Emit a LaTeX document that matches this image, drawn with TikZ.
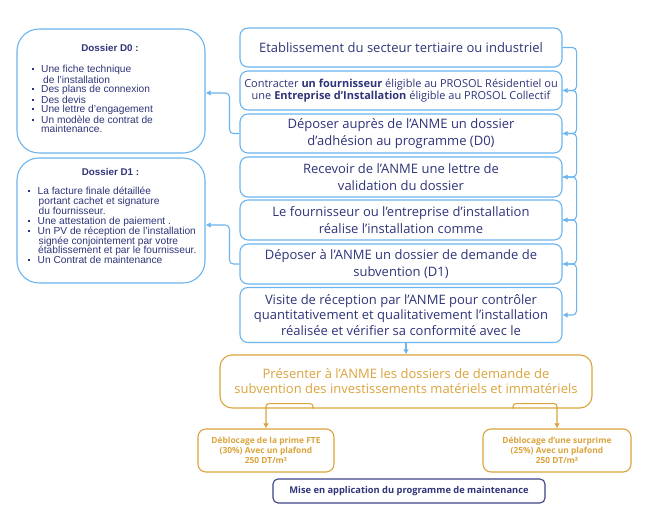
\documentclass[tikz,border=0pt]{standalone}
\usepackage{fontspec}
\setmainfont{Open Sans}
\newfontfamily\arialf{Liberation Sans}
\usetikzlibrary{arrows.meta}
\definecolor{bl}{RGB}{108,180,238}
\definecolor{nv}{RGB}{46,52,120}
\definecolor{og}{RGB}{218,163,60}
\definecolor{nvb}{RGB}{58,66,133}
\newcommand\bulx{\makebox[9.5pt][l]{\raisebox{2.6pt}{\rule{1.8pt}{1.8pt}}}}
\begin{document}
\begin{tikzpicture}[x=1pt,y=-1pt,
  mainbox/.style={draw=bl, line width=1.1pt, rounded corners=8pt, minimum width=322pt,
    text=nv, align=center, inner sep=0pt, font=\fontsize{13}{16.5}\selectfont},
  dbox/.style={draw=bl, line width=1.1pt, rounded corners=22pt, minimum width=188pt, inner sep=0pt},
  dtitle/.style={text=nv, inner sep=0pt, font=\arialf\bfseries\fontsize{9.8}{11}\selectfont},
  dlist/.style={text=nv, inner sep=0pt, align=left, anchor=north west},
  obox/.style={draw=og, line width=1.1pt, rounded corners=12pt, text=og, align=center, inner sep=0pt},
  sbox/.style={draw=og, line width=1.1pt, rounded corners=8pt, text=og, align=center, inner sep=0pt,
    font=\bfseries\fontsize{8.4}{9.7}\selectfont},
  arr/.style={draw=bl, line width=1.1pt, rounded corners=4pt, -{Latex[length=5pt,width=5.5pt]}},
  oarr/.style={draw=og, line width=1.1pt, rounded corners=3pt, -{Latex[length=5pt,width=5.5pt]}}
]
\useasboundingbox (0,0) rectangle (653,526);

% main column
\node[mainbox, minimum height=39pt] (b1) at (401,47.5) {Etablissement du secteur tertiaire ou industriel};
\node[mainbox, minimum height=39pt, font=\fontsize{11}{11.5}\selectfont] (b2) at (401,90.5)
  {Contracter \textbf{un fournisseur} éligible au PROSOL Résidentiel ou\\une \textbf{Entreprise d’Installation} éligible au PROSOL Collectif};
\node[mainbox, minimum height=39pt] (b3) at (401,133.5) {Déposer auprès de l’ANME un dossier\\d’adhésion au programme (D0)};
\node[mainbox, minimum height=40pt] (b4) at (401,177) {Recevoir de l’ANME une lettre de\\validation du dossier};
\node[mainbox, minimum height=40pt] (b5) at (401,220) {Le fournisseur ou l’entreprise d’installation\\réalise l’installation comme};
\node[mainbox, minimum height=40pt] (b6) at (401,264) {Déposer à l’ANME un dossier de demande de\\subvention (D1)};
\node[mainbox, minimum height=55pt, font=\fontsize{13}{15.5}\selectfont] (b7) at (401,315)
  {Visite de réception par l’ANME pour contrôler\\quantitativement et qualitativement l’installation\\réalisée et vérifier sa conformité avec le};

% right chain connectors
\foreach \a/\b in {b1/b2,b2/b3,b3/b4,b4/b5,b5/b6,b6/b7}{
  \draw[arr] (\a.east) -- ++(14pt,0) |- (\b.east);
}

% dossier boxes
\node[dbox, minimum height=124pt] (d0) at (111,91) {};
\node[dtitle] (d0t) at (110,48) {Dossier D0 :};
\node[dlist, font=\arialf\fontsize{10.2}{9.5}\selectfont] (d0l) at (31.5,65)
  {\bulx Une fiche technique\\
   \hspace*{11.5pt}de l’installation\\
   \bulx Des plans de connexion\\
   \bulx Des devis\\
   \bulx Une lettre d’engagement\\
   \bulx Un modèle de contrat de\\
   \hspace*{9.5pt}maintenance.};

\node[dbox, minimum height=125pt] (d1) at (111,220.5) {};
\node[dtitle] (d1t) at (110.5,172) {Dossier D1 :};
\node[dlist, font=\arialf\fontsize{10.2}{9.86}\selectfont] (d1l) at (28,187)
  {\bulx La facture finale détaillée\\
   \hspace*{10.5pt}portant cachet et signature\\
   \hspace*{10.5pt}du fournisseur.\\
   \bulx Une attestation de paiement .\\
   \bulx Un PV de réception de l’installation\\
   \hspace*{10.5pt}signée conjointement par votre\\
   \hspace*{10pt}établissement et par le fournisseur.\\
   \bulx Un Contrat de maintenance};

\draw[arr] (b3.west) -- ++(-10pt,0) |- ([yshift=-2pt]d0.east);
\draw[arr] (b6.west) -- ++(-10pt,0) |- ([yshift=-4.5pt]d1.east);

% orange part
\node[obox, minimum width=372pt, minimum height=53pt, font=\fontsize{13}{15}\selectfont] (o) at (406,381.5)
  {Présenter à l’ANME les dossiers de demande de\\subvention des investissements matériels et immatériels};
\draw[arr] (b7.south -| o.north) -- (o.north);

\node[sbox, minimum width=136pt, minimum height=43pt] (l) at (266,450.5)
  {Déblocage de la prime FTE\\(30\%) Avec un plafond\\250 DT/m²};
\node[sbox, minimum width=148pt, minimum height=43pt] (r) at (557,450.5)
  {Déblocage d’une surprime\\(25\%) Avec un plafond\\250 DT/m²};
\draw[oarr] ([xshift=-93pt]o.south) -- ++(0,5pt) -| (l.north);
\draw[oarr] ([xshift=107pt]o.south) -- ++(0,5pt) -| (r.north);

\node[draw=nvb, line width=1.1pt, rounded corners=5pt, minimum width=272pt, minimum height=24pt,
  inner sep=0pt, text=nv, font=\bfseries\fontsize{9.3}{10}\selectfont] (m) at (409,491)
  {Mise en application du programme de maintenance};
\end{tikzpicture}
\end{document}
